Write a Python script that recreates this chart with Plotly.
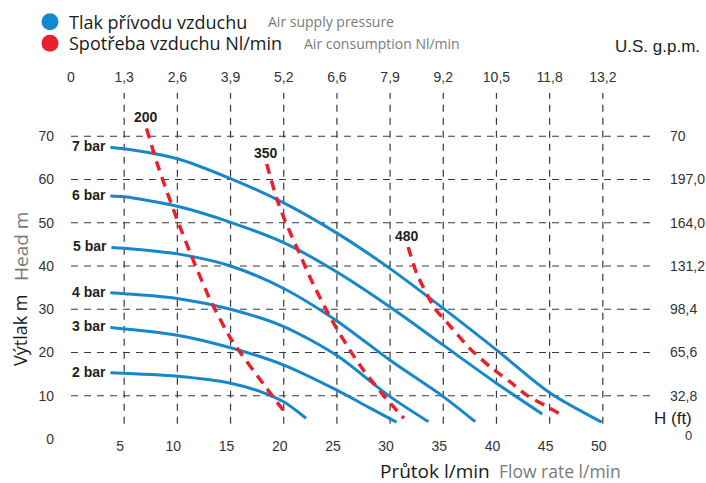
import plotly.graph_objects as go

# ---- data (flow l/min, head m) ----
PRESSURES = ["2 bar", "3 bar", "4 bar", "5 bar", "6 bar", "7 bar"]
FLOW_2 = [3.7, 10, 15, 18, 20, 22.1]
HEAD_2 = [15.3, 14.5, 12.9, 10.8, 8.6, 4.8]
FLOW_3 = [3.7, 10, 15, 20, 25, 28, 30.6]
HEAD_3 = [25.8, 24.0, 21.1, 17.1, 11.3, 7.3, 3.9]
FLOW_4 = [3.7, 5, 10, 15, 20, 25, 30, 33.6]
HEAD_4 = [33.8, 33.6, 32.5, 30.0, 26.0, 19.3, 9.8, 4.0]
FLOW_5 = [3.8, 5, 10, 15, 20, 25, 30, 35, 38.0]
HEAD_5 = [44.3, 44.1, 42.8, 40.0, 34.8, 27.3, 18.2, 9.8, 4.0]
FLOW_6 = [3.7, 5, 10, 15, 20, 25, 30, 35, 40, 44.3]
HEAD_6 = [56.2, 56.0, 53.8, 50.1, 45.4, 38.6, 30.5, 21.7, 12.9, 5.8]
FLOW_7 = [3.7, 5, 10, 15, 20, 25, 30, 35, 40, 45, 49.9]
HEAD_7 = [67.4, 67.1, 64.8, 60.2, 54.6, 47.6, 39.4, 30.2, 20.6, 10.7, 3.9]

CONSUMPTION = ["200", "350", "480"]
FLOW_200 = [7.1, 8.1, 8.7, 10.0, 11.5, 13.1, 15.1, 18.4, 20.3]
HEAD_200 = [71.8, 63.7, 59.4, 50.6, 41.3, 32.1, 22.9, 11.7, 5.5]
FLOW_350 = [18.4, 19.35, 20.1, 21.5, 22.6, 24.4, 26.2, 27.5, 29.4, 31.3]
HEAD_350 = [63.6, 55.5, 50.6, 42.8, 36.7, 28.0, 20.6, 15.9, 10.0, 4.8]
FLOW_480 = [31.7, 32.5, 34.2, 35.3, 37.5, 39.4, 41.3, 42.8, 44.6, 46.4]
HEAD_480 = [44.4, 38.3, 30.2, 27.1, 20.9, 16.7, 13.2, 10.2, 7.7, 5.2]

FLOW_TICKS = [5, 10, 15, 20, 25, 30, 35, 40, 45, 50]
GPM_TICKS = [0, 5, 10, 15, 20, 25, 30, 35, 40, 45, 50]
GPM_LABELS = ["0", "1,3", "2,6", "3,9", "5,2", "6,6", "7,9", "9,2", "10,5", "11,8", "13,2"]
HEAD_TICKS = [0, 10, 20, 30, 40, 50, 60, 70]
FT_TICKS = [10, 20, 30, 40, 50, 60, 70]
FT_LABELS = ["32,8", "65,6", "98,4", "131,2", "164,0", "197,0", "70"]

BLUE = "#1887c9"
RED = "#e8222b"
INK = "#231f20"
GREY = "#7a7a7a"
GRID = "#3a3a3a"
TICK_FONT = dict(family="Liberation Sans, Arial", size=14, color="#333333")
HUMAN = "Open Sans, Noto Sans"

W, H = 706, 483
PLOT_L, PLOT_T, PLOT_W, PLOT_H = 71, 93, 585, 346   # plot area in pixels

fig = go.Figure()

blue_curves = [(FLOW_2, HEAD_2), (FLOW_3, HEAD_3), (FLOW_4, HEAD_4),
               (FLOW_5, HEAD_5), (FLOW_6, HEAD_6), (FLOW_7, HEAD_7)]
red_curves = [(FLOW_200, HEAD_200), (FLOW_350, HEAD_350), (FLOW_480, HEAD_480)]

# grid: dashed lines at the tick positions
for v in FLOW_TICKS:
    fig.add_shape(type="line", x0=v, x1=v, y0=3.5, y1=80, xref="x", yref="y",
                  line=dict(color=GRID, width=1.2, dash="7px,6px"), layer="below")
for h in FT_TICKS:
    fig.add_shape(type="line", x0=0, x1=55, y0=h, y1=h, xref="x", yref="y",
                  line=dict(color=GRID, width=1.2, dash="7px,6px"), layer="below")

for name, (fx, hy) in zip(PRESSURES, blue_curves):
    fig.add_trace(go.Scatter(x=fx, y=hy, mode="lines", name=name,
                             line=dict(color=BLUE, width=3, shape="spline", smoothing=0.8),
                             showlegend=False, hoverinfo="skip"))
    fig.add_annotation(x=fx[0], y=hy[0], text="<b>%s</b>" % name, showarrow=False,
                       xanchor="right", yanchor="middle", xshift=-2, yshift=1,
                       font=dict(family="Liberation Sans, Arial", size=14, color=INK))

for name, (fx, hy) in zip(CONSUMPTION, red_curves):
    fig.add_trace(go.Scatter(x=fx, y=hy, mode="lines", name=name,
                             line=dict(color=RED, width=3.5, dash="10px,7px",
                                       shape="spline", smoothing=0.6),
                             showlegend=False, hoverinfo="skip"))
    fig.add_annotation(x=fx[0], y=hy[0], text="<b>%s</b>" % name, showarrow=False,
                       xanchor="center", yanchor="middle", yshift=11, xshift=-1,
                       font=dict(family="Liberation Sans, Arial", size=14, color=INK))

# dummy trace so the secondary axes are drawn
fig.add_trace(go.Scatter(x=[0], y=[0], xaxis="x2", yaxis="y2", mode="markers",
                         marker=dict(opacity=0), showlegend=False, hoverinfo="skip"))


def px(xp, yp):
    """figure pixel -> paper coordinates"""
    return (xp - PLOT_L) / PLOT_W, (PLOT_T + PLOT_H - yp) / PLOT_H


# legend (drawn by hand: bilingual two-tone text)
for py, col, dark, grey, gx in [(21.7, "#1589d0", "Tlak přívodu vzduchu", "Air supply pressure", 266),
                                (43.3, RED, "Spotřeba vzduchu Nl/min", "Air consumption Nl/min", 302)]:
    cx, cy = px(50, py)
    fig.add_shape(type="circle", xref="paper", yref="paper", xsizemode="pixel", ysizemode="pixel",
                  xanchor=cx, yanchor=cy, x0=-8.5, x1=8.5, y0=-8.5, y1=8.5,
                  fillcolor=col, line=dict(width=0))
    fig.add_annotation(x=px(67, py)[0], y=cy, xref="paper", yref="paper", text=dark,
                       showarrow=False, xanchor="left", yanchor="middle",
                       font=dict(family=HUMAN, size=18, color="#1a1a1a"))
    fig.add_annotation(x=px(gx, py)[0], y=cy, xref="paper", yref="paper", text=grey,
                       showarrow=False, xanchor="left", yanchor="middle",
                       font=dict(family=HUMAN, size=14, color=GREY))

for text, (x, y), font, ang in [
    ("Výtlak m", px(20, 330), dict(family=HUMAN, size=18, color="#1a1a1a"), -90),
    ("Head m", px(21, 247), dict(family=HUMAN, size=19, color=GREY), -90),
    ("Průtok l/min", px(435, 471), dict(family=HUMAN, size=19, color="#1a1a1a"), 0),
    ("Flow rate l/min", px(560, 471), dict(family=HUMAN, size=17.5, color=GREY), 0),
    ("U.S. g.p.m.", px(657, 47), dict(family="Liberation Sans, Arial", size=17, color="#222222"), 0),
    ("H (ft)", px(673, 418), dict(family="Liberation Sans, Arial", size=17, color="#222222"), 0),
    ("0", px(688, 435), dict(family="Liberation Sans, Arial", size=13, color="#333333"), 0),
]:
    fig.add_annotation(x=x, y=y, xref="paper", yref="paper", text=text, showarrow=False,
                       xanchor="center", yanchor="middle", textangle=ang, font=font)

fig.update_layout(
    width=W, height=H,
    margin=dict(l=PLOT_L, r=W - PLOT_L - PLOT_W, t=PLOT_T, b=H - PLOT_T - PLOT_H,
                autoexpand=False),
    paper_bgcolor="white", plot_bgcolor="white",
    xaxis=dict(range=[0, 55], tickvals=FLOW_TICKS, showgrid=False, zeroline=False,
               showline=False, ticks="", tickfont=TICK_FONT, ticklabelshift=-4,
               ticklabelstandoff=-3, fixedrange=True, automargin=False),
    yaxis=dict(range=[0, 80], tickvals=HEAD_TICKS, showgrid=False, zeroline=False,
               showline=False, ticks="", tickfont=TICK_FONT, ticklabelstandoff=16,
               fixedrange=True, automargin=False),
    xaxis2=dict(range=[0, 55], overlaying="x", side="top", anchor="y", tickvals=GPM_TICKS,
                ticktext=GPM_LABELS, showgrid=False, zeroline=False, showline=False,
                ticks="", tickfont=TICK_FONT, ticklabelstandoff=7, automargin=False),
    yaxis2=dict(range=[0, 80], overlaying="y", side="right", anchor="x", tickvals=FT_TICKS,
                ticktext=FT_LABELS, showgrid=False, zeroline=False, showline=False,
                ticks="", tickfont=TICK_FONT, ticklabelstandoff=13, automargin=False),
    showlegend=False,
)

# drop the default 8px body margin so the 706x483 figure fills the window exactly
fig.write_html("out.html", config={"displayModeBar": False},
               post_script="document.body.style.margin='0';")
